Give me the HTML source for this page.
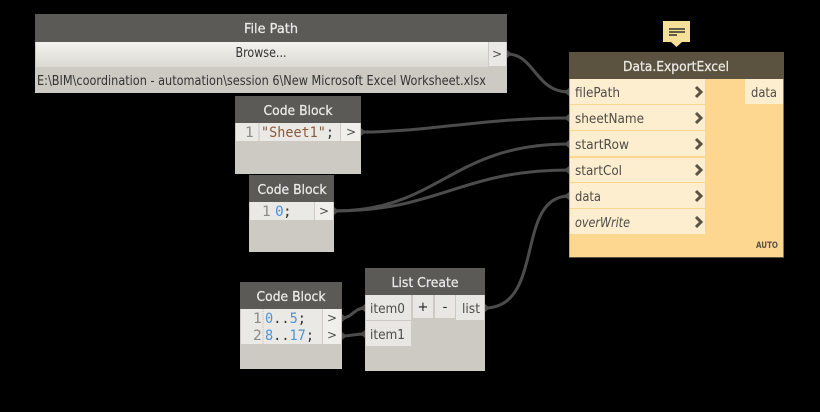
<!DOCTYPE html>
<html><head><meta charset="utf-8"><style>
html,body{margin:0;padding:0;background:#000;width:820px;height:412px;overflow:hidden}
svg{display:block}
text{font-family:"DejaVu Sans","Liberation Sans",sans-serif;font-size:13px;fill:#4e4c48}
.t{font-family:"DejaVu Sans",sans-serif;fill:#ecebe8;font-size:13.500px;text-anchor:middle;stroke:#ecebe8;stroke-width:.25}
.c{font-family:"DejaVu Sans Mono","Liberation Mono",monospace;font-size:14.500px}
.w{fill:none;stroke:#4c4c4c;stroke-width:3}
.g{fill:#8d8b87}.b{fill:#4d94d6}.k{fill:#333}
</style></head><body>
<svg width="820" height="412" viewBox="0 0 820 412" xmlns="http://www.w3.org/2000/svg">
<defs>
<linearGradient id="br" x1="0" y1="0" x2="0" y2="1"><stop offset="0" stop-color="#f4f3ef"/><stop offset="1" stop-color="#dcdad3"/></linearGradient>
</defs>
<rect width="820" height="412" fill="#000"/>

<!-- wires -->
<path class="w" d="M507 54C535 54 535 92 569 92"/>
<path class="w" d="M361 132C430 132 480 118 569 118"/>
<path class="w" d="M334 211C440 211 450 144 569 144"/>
<path class="w" d="M334 211C440 211 460 170 569 170"/>
<path class="w" d="M485 308C545 308 515 196 569 196"/>
<path class="w" d="M342 318C352 318 354 308 365 308"/>
<path class="w" d="M342 336C352 336 354 334 365 334"/>
<g fill="#4c4c4c">
<path d="M507 50L512 54L507 58Z"/><path d="M569 88L564 92L569 96Z"/>
<path d="M361 128L366 132L361 136Z"/><path d="M569 114L564 118L569 122Z"/>
<path d="M334 207L339 211L334 215Z"/><path d="M569 140L564 144L569 148Z"/>
<path d="M569 166L564 170L569 174Z"/><path d="M569 192L564 196L569 200Z"/>
<path d="M485 304L490 308L485 312Z"/><path d="M342 314L347 318L342 322Z"/>
<path d="M342 332L347 336L342 340Z"/><path d="M365 304L360 308L365 312Z"/>
<path d="M365 330L360 334L365 338Z"/>
</g>

<!-- File Path -->
<rect x="35" y="14" width="472" height="79" fill="#cdcac3"/>
<rect x="35" y="14" width="472" height="28" fill="#5b5a57"/>
<rect x="36" y="42" width="452" height="25" fill="url(#br)"/>
<rect x="489" y="42" width="17" height="24" fill="#e9e8e4"/>
<text class="t" x="271" y="33" textLength="54" lengthAdjust="spacingAndGlyphs">File Path</text>
<text x="261" y="57" text-anchor="middle" style="fill:#333" textLength="51" lengthAdjust="spacingAndGlyphs">Browse...</text>
<text x="497" y="58" text-anchor="middle" style="font-size:12px">&gt;</text>
<text x="37" y="85" style="fill:#333" textLength="449" lengthAdjust="spacingAndGlyphs">E:\BIM\coordination - automation\session 6\New Microsoft Excel Worksheet.xlsx</text>

<!-- Code Block 1 -->
<rect x="235" y="96" width="126" height="78" fill="#cdcac3"/>
<rect x="235" y="96" width="126" height="27" fill="#5b5a57"/>
<rect x="236" y="123" width="104" height="18" fill="#ebe9e5"/>
<rect x="341" y="123" width="19" height="18" fill="#f0efeb"/>
<line x1="259" y1="123" x2="259" y2="141" stroke="#c9c7c2"/>
<text class="t" x="298" y="115" textLength="69" lengthAdjust="spacingAndGlyphs">Code Block</text>
<text class="c g" x="245" y="137">1</text>
<text class="c" x="261" y="137" textLength="73" lengthAdjust="spacingAndGlyphs"><tspan style="fill:#8a5a3c">"Sheet1"</tspan><tspan class="k">;</tspan></text>
<text x="351" y="136" text-anchor="middle" style="font-size:12px">&gt;</text>

<!-- Code Block 2 -->
<rect x="249" y="175" width="85" height="77" fill="#cdcac3"/>
<rect x="249" y="175" width="85" height="27" fill="#5b5a57"/>
<rect x="250" y="202" width="64" height="18" fill="#ebe9e5"/>
<rect x="315" y="202" width="18" height="18" fill="#f0efeb"/>
<text class="t" x="292" y="194" textLength="69" lengthAdjust="spacingAndGlyphs">Code Block</text>
<text class="c g" x="262" y="216">1</text>
<text class="c b" x="275" y="216">0</text>
<text class="c k" x="283" y="216">;</text>
<text x="324" y="215" text-anchor="middle" style="font-size:12px">&gt;</text>

<!-- Code Block 3 -->
<rect x="240" y="282" width="102" height="87" fill="#cdcac3"/>
<rect x="240" y="282" width="102" height="27" fill="#5b5a57"/>
<rect x="241" y="309" width="81" height="35" fill="#ebe9e5"/>
<rect x="323" y="309" width="18" height="35" fill="#f0efeb"/>
<line x1="263" y1="309" x2="263" y2="344" stroke="#bdbbb6" stroke-dasharray="1 1"/>
<text class="t" x="291" y="301" textLength="69" lengthAdjust="spacingAndGlyphs">Code Block</text>
<text class="c g" x="253" y="323">1</text>
<text class="c g" x="253" y="340">2</text>
<text class="c" x="265" y="323" textLength="41" lengthAdjust="spacingAndGlyphs"><tspan class="b">0</tspan><tspan class="k">..</tspan><tspan class="b">5</tspan><tspan class="k">;</tspan></text>
<text class="c" x="265" y="340" textLength="49" lengthAdjust="spacingAndGlyphs"><tspan class="b">8</tspan><tspan class="k">..</tspan><tspan class="b">17</tspan><tspan class="k">;</tspan></text>
<text x="332" y="322" text-anchor="middle" style="font-size:12px">&gt;</text>
<text x="332" y="339" text-anchor="middle" style="font-size:12px">&gt;</text>

<!-- List Create -->
<rect x="365" y="268" width="120" height="103" fill="#cdcac3"/>
<rect x="365" y="268" width="120" height="27" fill="#5b5a57"/>
<rect x="366" y="295" width="45" height="25" fill="#e9e7e3"/>
<rect x="366" y="321" width="45" height="25" fill="#e9e7e3"/>
<rect x="413" y="295" width="20" height="23" fill="#e9e7e3"/>
<rect x="435" y="295" width="20" height="23" fill="#e9e7e3"/>
<rect x="456" y="295" width="28" height="25" fill="#e9e7e3"/>
<text class="t" x="425" y="287" textLength="67" lengthAdjust="spacingAndGlyphs">List Create</text>
<text x="370" y="313" textLength="35" lengthAdjust="spacingAndGlyphs">item0</text>
<text x="370" y="339" textLength="35" lengthAdjust="spacingAndGlyphs">item1</text>
<text x="423" y="311" text-anchor="middle" style="fill:#222">+</text>
<text x="445" y="311" text-anchor="middle" style="fill:#222">-</text>
<text x="462" y="313" textLength="18" lengthAdjust="spacingAndGlyphs">list</text>

<!-- Data.ExportExcel -->
<rect x="569" y="52" width="215" height="206" fill="#fdd78f"/>
<rect x="569" y="52" width="215" height="27" fill="#5b5340"/>
<rect x="569" y="257" width="215" height="1" fill="#5b5340"/>
<rect x="569" y="79" width="1" height="178" fill="#c9ab72"/>
<rect x="783" y="79" width="1" height="178" fill="#8a7650"/>
<g fill="#fdeecf">
<rect x="570" y="79" width="135" height="25"/>
<rect x="570" y="105" width="135" height="25"/>
<rect x="570" y="131" width="135" height="25"/>
<rect x="570" y="158" width="135" height="24"/>
<rect x="570" y="183" width="135" height="25"/>
<rect x="570" y="209" width="135" height="25"/>
<rect x="745" y="79" width="38" height="25"/>
</g>
<text class="t" x="676" y="71" textLength="106" lengthAdjust="spacingAndGlyphs">Data.ExportExcel</text>
<text x="575" y="97" textLength="45" lengthAdjust="spacingAndGlyphs">filePath</text>
<text x="575" y="123" textLength="69" lengthAdjust="spacingAndGlyphs">sheetName</text>
<text x="575" y="149" textLength="54" lengthAdjust="spacingAndGlyphs">startRow</text>
<text x="575" y="175" textLength="47" lengthAdjust="spacingAndGlyphs">startCol</text>
<text x="575" y="201" textLength="26" lengthAdjust="spacingAndGlyphs">data</text>
<text x="575" y="227" textLength="55" lengthAdjust="spacingAndGlyphs" style="font-style:italic">overWrite</text>
<text x="751" y="97" textLength="26" lengthAdjust="spacingAndGlyphs">data</text>
<text x="756" y="248" textLength="22" lengthAdjust="spacingAndGlyphs" style="font-size:9px;font-weight:bold;fill:#5b5340">AUTO</text>
<g fill="none" stroke="#5b5340" stroke-width="3">
<path d="M696 87l5 5l-5 5"/>
<path d="M696 113l5 5l-5 5"/>
<path d="M696 139l5 5l-5 5"/>
<path d="M696 165l5 5l-5 5"/>
<path d="M696 191l5 5l-5 5"/>
<path d="M696 217l5 5l-5 5"/>
</g>

<!-- Note -->
<path d="M663 21H690V42H682L676.500 47L671 42H663Z" fill="#f5e09a"/>
<path d="M669 29H685M669 32H685M669 35H677" stroke="#111" stroke-width="1.200"/>
</svg>
</body></html>
